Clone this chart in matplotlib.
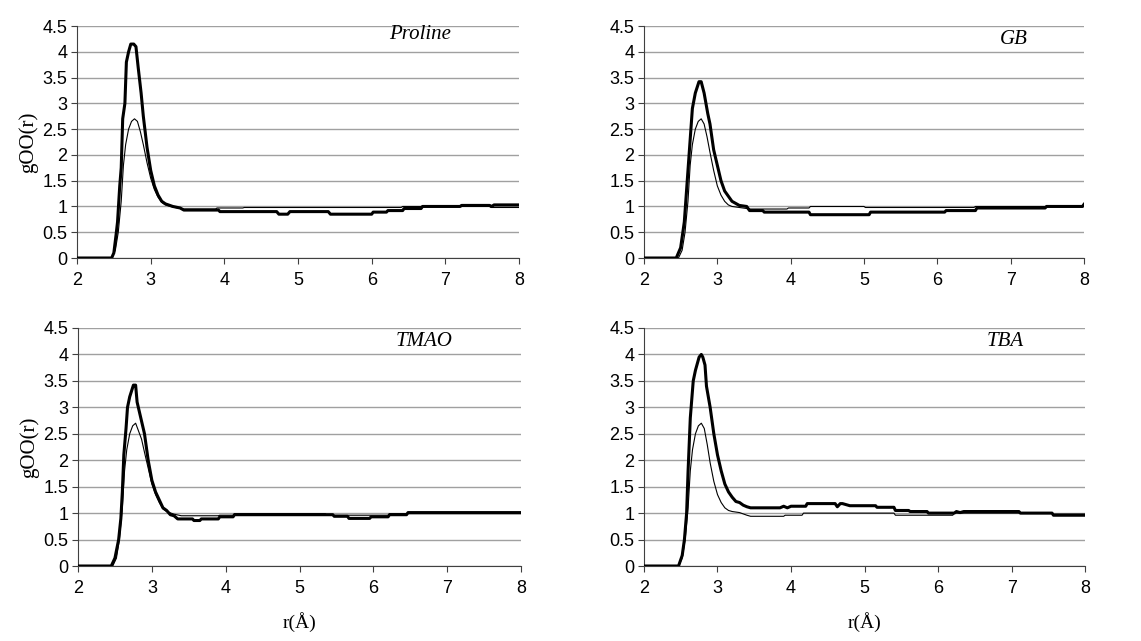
import matplotlib
matplotlib.use('Agg')
import matplotlib.pyplot as plt

# thin line: pure water reference, thick line: osmolyte solution
proline_r = [2.0, 2.47, 2.5, 2.53, 2.55, 2.58, 2.6, 2.62, 2.65, 2.67, 2.7, 2.73, 2.77, 2.8, 2.83, 2.87, 2.9, 2.95,
             3.0, 3.05, 3.1, 3.15, 3.2, 3.3, 3.4, 3.45, 3.92, 3.94, 4.71, 4.74, 4.86, 4.89, 5.41, 5.44, 6.0, 6.02,
             6.2, 6.22, 6.42, 6.44, 6.67, 6.69, 7.2, 7.22, 7.6, 7.63, 7.66, 8.0]
proline_g = [0, 0, 0.1, 0.45, 0.7, 1.4, 1.75, 2.7, 3.0, 3.8, 4.0, 4.15, 4.15, 4.1, 3.7, 3.2, 2.75, 2.15,
             1.7, 1.4, 1.22, 1.1, 1.05, 1.0, 0.97, 0.93, 0.93, 0.9, 0.9, 0.85, 0.85, 0.9, 0.9, 0.85, 0.85, 0.89,
             0.89, 0.92, 0.92, 0.96, 0.96, 1.0, 1.0, 1.02, 1.02, 1.0, 1.03, 1.03]
proline_ref_r = [2.0, 2.47, 2.52, 2.56, 2.6, 2.63, 2.66, 2.7, 2.74, 2.78, 2.82, 2.86, 2.9, 2.95, 3.0, 3.05, 3.1,
                 3.15, 3.2, 3.3, 3.4, 3.45, 3.88, 3.9, 4.25, 4.27, 6.4, 6.42, 7.6, 7.62, 8.0]
proline_ref_g = [0, 0, 0.15, 0.5, 1.1, 1.8, 2.2, 2.5, 2.65, 2.7, 2.65, 2.45, 2.2, 1.85, 1.55, 1.33, 1.18,
                 1.08, 1.03, 0.99, 0.96, 0.95, 0.95, 0.97, 0.97, 0.98, 0.98, 1.0, 1.0, 0.98, 0.98]

gb_r = [2.0, 2.44, 2.5, 2.55, 2.58, 2.6, 2.63, 2.66, 2.7, 2.75, 2.78, 2.82, 2.87, 2.9, 2.95, 3.0, 3.05, 3.1,
        3.15, 3.2, 3.3, 3.4, 3.44, 3.62, 3.64, 4.25, 4.27, 5.07, 5.09, 6.1, 6.12, 6.52, 6.54, 7.47, 7.49, 7.98, 8.0]
gb_g = [0, 0, 0.2, 0.7, 1.3, 1.7, 2.3, 2.9, 3.2, 3.42, 3.42, 3.2, 2.8, 2.6, 2.1, 1.8, 1.5, 1.3,
        1.2, 1.1, 1.02, 1.0, 0.92, 0.92, 0.89, 0.89, 0.84, 0.84, 0.89, 0.89, 0.92, 0.92, 0.97, 0.97, 1.0, 1.0, 1.04]
gb_ref_r = [2.0, 2.47, 2.52, 2.56, 2.6, 2.63, 2.66, 2.7, 2.74, 2.78, 2.82, 2.86, 2.9, 2.95, 3.0, 3.05, 3.1,
            3.15, 3.2, 3.3, 3.4, 3.45, 3.95, 3.97, 4.25, 4.27, 5.0, 5.02, 6.5, 6.52, 8.0]
gb_ref_g = [0, 0, 0.15, 0.5, 1.1, 1.8, 2.2, 2.5, 2.65, 2.7, 2.6, 2.35, 2.05, 1.7, 1.4, 1.22, 1.1,
            1.03, 1.0, 0.98, 0.96, 0.95, 0.95, 0.97, 0.97, 1.0, 1.0, 0.98, 0.98, 1.0, 1.0]

tmao_r = [2.0, 2.45, 2.5, 2.55, 2.58, 2.6, 2.62, 2.65, 2.67, 2.7, 2.75, 2.78, 2.8, 2.85, 2.9, 2.95, 3.0, 3.05,
          3.1, 3.15, 3.2, 3.25, 3.3, 3.35, 3.55, 3.57, 3.65, 3.67, 3.9, 3.92, 4.1, 4.12, 5.45, 5.47, 5.65, 5.67,
          5.95, 5.97, 6.2, 6.22, 6.45, 6.47, 8.0]
tmao_g = [0, 0, 0.15, 0.5, 0.9, 1.4, 2.1, 2.6, 3.0, 3.2, 3.42, 3.42, 3.1, 2.8, 2.5, 2.0, 1.62, 1.4,
          1.25, 1.1, 1.05, 0.97, 0.95, 0.89, 0.89, 0.86, 0.86, 0.89, 0.89, 0.93, 0.93, 0.97, 0.97, 0.94, 0.94, 0.9,
          0.9, 0.93, 0.93, 0.97, 0.97, 1.01, 1.01]
tmao_ref_r = [2.0, 2.47, 2.52, 2.56, 2.6, 2.63, 2.66, 2.7, 2.74, 2.78, 2.82, 2.86, 2.9, 2.95, 3.0, 3.05, 3.1,
              3.15, 3.2, 3.3, 3.4, 3.9, 3.92, 4.1, 4.12, 5.35, 5.37, 6.2, 6.22, 8.0]
tmao_ref_g = [0, 0, 0.15, 0.5, 1.1, 1.8, 2.2, 2.5, 2.65, 2.7, 2.55, 2.4, 2.15, 1.85, 1.55, 1.35, 1.2,
              1.08, 1.03, 0.98, 0.95, 0.95, 0.96, 0.96, 0.99, 0.99, 0.96, 0.96, 0.99, 0.99]

tba_r = [2.0, 2.47, 2.52, 2.55, 2.58, 2.6, 2.63, 2.67, 2.7, 2.75, 2.78, 2.8, 2.83, 2.85, 2.9, 2.95, 3.0, 3.05,
         3.1, 3.15, 3.2, 3.25, 3.3, 3.35, 3.4, 3.45, 3.85, 3.9, 3.95, 4.0, 4.2, 4.22, 4.6, 4.63, 4.67, 4.7, 4.8,
         5.15, 5.17, 5.4, 5.42, 5.6, 5.62, 5.85, 5.87, 6.22, 6.25, 6.3, 6.35, 7.1, 7.12, 7.55, 7.57, 8.0]
tba_g = [0, 0, 0.2, 0.5, 1.0, 1.8, 2.8, 3.5, 3.7, 3.95, 4.0, 3.95, 3.8, 3.4, 3.0, 2.5, 2.1, 1.8,
         1.55, 1.4, 1.3, 1.22, 1.2, 1.15, 1.12, 1.1, 1.1, 1.13, 1.1, 1.13, 1.13, 1.18, 1.18, 1.12, 1.18, 1.18, 1.14,
         1.14, 1.11, 1.11, 1.05, 1.05, 1.03, 1.03, 1.0, 1.0, 1.03, 1.01, 1.03, 1.03, 1.0, 1.0, 0.96, 0.96]
tba_ref_r = [2.0, 2.47, 2.52, 2.56, 2.6, 2.63, 2.66, 2.7, 2.74, 2.78, 2.82, 2.86, 2.9, 2.95, 3.0, 3.05, 3.1,
             3.15, 3.2, 3.3, 3.4, 3.45, 3.9, 3.92, 4.15, 4.17, 5.4, 5.42, 6.2, 6.22, 7.55, 7.57, 8.0]
tba_ref_g = [0, 0, 0.15, 0.5, 1.1, 1.8, 2.2, 2.5, 2.65, 2.7, 2.6, 2.3, 1.95, 1.6, 1.35, 1.2, 1.1,
             1.05, 1.03, 1.01, 0.96, 0.94, 0.94, 0.96, 0.96, 1.0, 1.0, 0.96, 0.96, 1.0, 1.0, 0.98, 0.98]

panels = [
    ('Proline', proline_r, proline_g, proline_ref_r, proline_ref_g, [0.0675, 0.5975, 0.3874, 0.3619], 0.845, 0.965),
    ('GB', gb_r, gb_g, gb_ref_r, gb_ref_g, [0.5644, 0.5975, 0.3856, 0.3619], 0.873, 0.94),
    ('TMAO', tmao_r, tmao_g, tmao_ref_r, tmao_ref_g, [0.0684, 0.117, 0.3882, 0.3713], 0.845, 0.945),
    ('TBA', tba_r, tba_g, tba_ref_r, tba_ref_g, [0.5644, 0.117, 0.3866, 0.3713], 0.86, 0.945),
]

serif = 'Liberation Serif'
sans = 'Liberation Sans'

fig = plt.figure(figsize=(11.41, 6.41), dpi=100)
for i, (name, r, g, rr, rg, pos, tx, ty) in enumerate(panels):
    ax = fig.add_axes(pos)
    ax.plot(rr, rg, color='black', lw=0.8, zorder=3)
    ax.plot(r, g, color='black', lw=2.2, zorder=4, solid_joinstyle='round')
    ax.set_xlim(2, 8)
    ax.set_ylim(0, 4.5)
    ax.set_xticks(range(2, 9))
    ax.set_yticks([0, 0.5, 1, 1.5, 2, 2.5, 3, 3.5, 4, 4.5])
    ax.set_yticklabels(['0', '0.5', '1', '1.5', '2', '2.5', '3', '3.5', '4', '4.5'])
    ax.yaxis.grid(True, color='#a0a0a0', lw=1)
    ax.set_axisbelow(True)
    for s in ['top', 'right']:
        ax.spines[s].set_visible(False)
    ax.spines['left'].set_color('#404040')
    ax.spines['bottom'].set_color('#404040')
    ax.tick_params(direction='out', length=4, color='#404040', labelsize=13)
    ax.tick_params(axis='x', pad=6)
    ax.tick_params(axis='y', pad=3)
    for lab in ax.get_xticklabels() + ax.get_yticklabels():
        lab.set_fontfamily(sans)
    ax.text(tx, ty, name, transform=ax.transAxes, ha='right', va='center',
            fontsize=15, fontstyle='italic', family=serif)
    if i % 2 == 0:
        ax.set_ylabel('gOO(r)', family=serif, fontsize=15, labelpad=3)
    if i >= 2:
        ax.set_xlabel('r(Å)', family=serif, fontsize=14, labelpad=11)

plt.savefig('out.png', dpi=100)
